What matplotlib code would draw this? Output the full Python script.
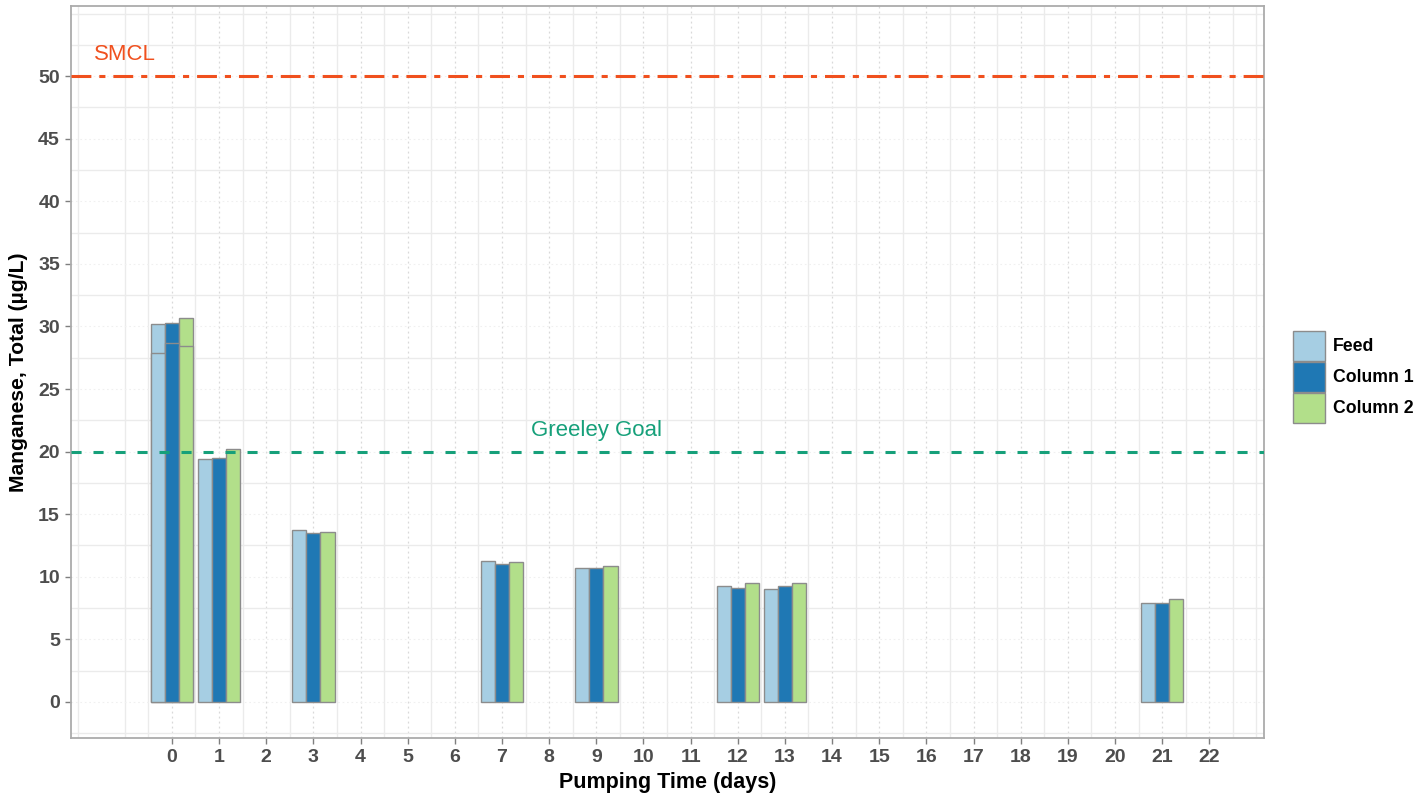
import matplotlib
matplotlib.use("Agg")
import matplotlib.pyplot as plt
from matplotlib.patches import Patch
import numpy as np

# ---- data ----
series = ["Feed", "Column 1", "Column 2"]
days = [0, 0, 1, 3, 7, 9, 12, 13, 21]
feed = [30.2, 27.9, 19.4, 13.7, 11.3, 10.7, 9.3, 9.0, 7.9]
column1 = [30.3, 28.7, 19.5, 13.5, 11.0, 10.7, 9.1, 9.3, 7.9]
column2 = [30.7, 28.4, 20.2, 13.6, 11.2, 10.9, 9.5, 9.5, 8.2]
x_ticks = list(range(0, 23))
y_ticks = list(range(0, 55, 5))
smcl = 50
greeley_goal = 20

colors = ["#A6CEE3", "#1F78B4", "#B2DF8A"]
edge = "#8C8C8C"

plt.rcParams["font.family"] = ["Liberation Sans", "DejaVu Sans"]

fig = plt.figure(figsize=(14.18, 7.93), dpi=100)
ax = fig.add_axes([71 / 1418, 1 - 738 / 793, (1264 - 71) / 1418, (738 - 6) / 793])

# grid
for xv in [-2, -1] + list(np.arange(-0.5, 23.0, 1.0)) + [23]:
    ax.axvline(xv, color="#EBEBEB", lw=1.0, zorder=0)
for xv in x_ticks:
    ax.axvline(xv, color="#D9D9D9", lw=0.9, ls=(0, (1.5, 2.5)), zorder=0)
for yv in np.arange(-2.5, 56, 5):
    ax.axhline(yv, color="#EBEBEB", lw=1.0, zorder=0)
ax.axhline(55, color="#EBEBEB", lw=1.0, zorder=0)
for yv in y_ticks:
    ax.axhline(yv, color="#F0F0F0", lw=0.8, ls=(0, (1.5, 2.5)), zorder=0)

width = 0.3
offsets = [-width, 0.0, width]
vals = [feed, column1, column2]
d = np.array(days, dtype=float)
for i in range(len(days)):
    for s in range(3):
        ax.bar(d[i] + offsets[s], vals[s][i], width=width, color=colors[s],
               edgecolor=edge, linewidth=1.0, zorder=2 + i * 0.01)

# reference lines
ax.axhline(smcl, color="#F0501E", lw=2.2, ls=(0, (6.5, 2.6, 2, 2.6)), zorder=3)
ax.axhline(greeley_goal, color="#16A07A", lw=2.2, ls=(0, (3.3, 3.9)), zorder=3)
ax.text(-1.0, 51.7, "SMCL", color="#F0501E", fontsize=16, ha="center", va="center")
ax.text(9.0, 21.7, "Greeley Goal", color="#16A07A", fontsize=16, ha="center", va="center")

ax.set_xlim(-2.14, 23.16)
ax.set_ylim(-2.88, 55.6)
ax.set_xticks(x_ticks)
ax.set_xticklabels([str(t) for t in x_ticks])
ax.set_yticks(y_ticks)
ax.set_yticklabels([str(t) for t in y_ticks])
ax.tick_params(axis="both", colors="#7F7F7F", length=4, width=1.0, labelsize=14,
               labelcolor="#4D4D4D", pad=4)
for lab in ax.get_xticklabels() + ax.get_yticklabels():
    lab.set_fontweight("bold")
for sp in ax.spines.values():
    sp.set_color("#ABABAB")
    sp.set_linewidth(1.3)

ax.set_xlabel("Pumping Time (days)", fontsize=15.5, fontweight="bold", color="black", labelpad=4)
ax.set_ylabel("Manganese, Total (\u00b5g/L)", fontsize=15.2, fontweight="bold", color="black", labelpad=7)

handles = [Patch(facecolor=c, edgecolor=edge, linewidth=1.0, label=l) for c, l in zip(colors, series)]
leg = fig.legend(handles=handles, loc="center left", bbox_to_anchor=(1293 / 1418, 1 - 377 / 793),
                 frameon=False, fontsize=12.7, handlelength=1.82, handleheight=2.25,
                 handletextpad=0.45, labelspacing=0.05, borderaxespad=0, borderpad=0)
for t in leg.get_texts():
    t.set_fontweight("bold")

fig.savefig("out.png", dpi=100)
